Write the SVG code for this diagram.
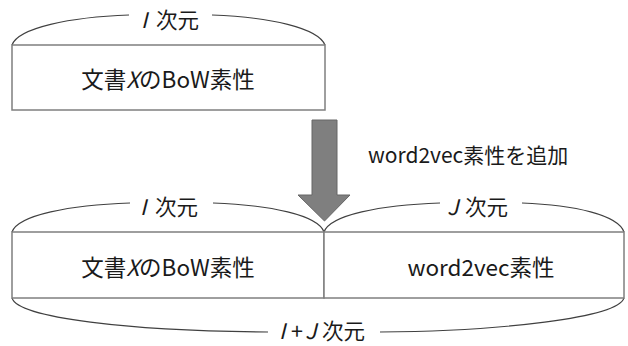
<svg xmlns="http://www.w3.org/2000/svg" width="628" height="346" viewBox="0 0 628 346">
<style>
.box{fill:#ffffff;stroke:#7f7f7f;stroke-width:1.5}
.brace{fill:none;stroke:#404040;stroke-width:1.1}
.t{font-family:"Noto Sans CJK JP","Noto Sans",sans-serif;fill:#1a1a1a}
.m{text-anchor:middle}
.big{font-size:22.5px}
.add{font-size:21px}
.lab{font-size:21.5px}
.it{font-style:italic}
</style>
<rect width="628" height="346" fill="#ffffff"/>
<g id="connectors">
<path class="brace" d="M12,45 C18,28 70,17 129,15"/>
<path class="brace" d="M212,15 C270,17 318,28 325,45"/>
<path class="brace" d="M12,232 C18,215 70,205 130,203"/>
<path class="brace" d="M213,203 C270,205 318,215 324,232"/>
<path class="brace" d="M324,232 C330,215 380,205 440,203"/>
<path class="brace" d="M522,203 C575,205 618,215 624,232"/>
<path class="brace" d="M12,298 C18,318 130,331 268,332"/>
<path class="brace" d="M380,332 C500,331 618,318 624,298"/>
<path id="arrow" d="M312,120 H337 V195 H350 L324.5,221 L298,195 H312 Z" fill="#7f7f7f" stroke="#666666" stroke-width="1"/>
</g>
<g id="label-top">
<text class="t lab it" x="141" y="28">I</text>
<text class="t lab" x="156" y="28">次元</text>
</g>
<g id="box-top">
<rect class="box" x="12" y="45" width="313" height="65"/>
<text class="t big m" x="168" y="88">文書<tspan class="it">X</tspan>のBoW素性</text>
</g>
<g id="label-add">
<text class="t add" x="368" y="163">word2vec素性を追加</text>
</g>
<g id="label-I">
<text class="t lab it" x="140" y="215">I</text>
<text class="t lab" x="155" y="215">次元</text>
</g>
<g id="label-J">
<text class="t lab it" x="447" y="215">J</text>
<text class="t lab" x="465" y="215">次元</text>
</g>
<g id="box-bow">
<rect class="box" x="12" y="232" width="312" height="66"/>
<text class="t big m" x="168" y="276">文書<tspan class="it">X</tspan>のBoW素性</text>
</g>
<g id="box-w2v">
<rect class="box" x="324" y="232" width="300" height="66"/>
<text class="t big m" x="481" y="276">word2vec素性</text>
</g>
<g id="label-IJ">
<text class="t lab it" x="279" y="339">I</text>
<text class="t lab" x="291" y="339">+</text>
<text class="t lab it" x="305" y="339">J</text>
<text class="t lab" x="322" y="339">次元</text>
</g>
</svg>
